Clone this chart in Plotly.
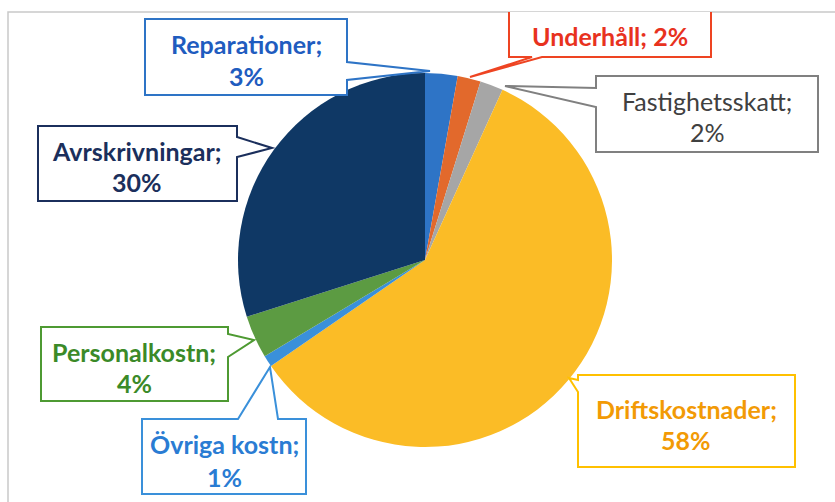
import plotly.graph_objects as go

W, H = 835, 502

categories = ["Reparationer", "Underhåll", "Fastighetsskatt", "Driftskostnader",
              "Övriga kostn", "Personalkostn", "Avrskrivningar"]
values = [2.8, 2.0, 2.0, 58.6, 1.0, 3.7, 29.9]
pct_labels = ["3%", "2%", "2%", "58%", "1%", "4%", "30%"]
slice_colors = ["#2E74C6", "#E2692C", "#A6A6A6", "#FBBC26", "#3A90DA", "#5C9B42", "#0F3865"]

text_colors = ["#1F5CBF", "#E8321E", "#404040", "#F29A05", "#2A7CD3", "#3B8A28", "#1B2F5C"]
border_colors = ["#2E74C6", "#EE4422", "#808080", "#FFC000", "#3A90DA", "#4E9A32", "#1B2F5C"]
bold = [True, True, False, True, True, True, True]


def px(x):
    return x / W


def py(y):
    return 1 - y / H


def path(points, close=True):
    s = "M " + " L ".join(f"{px(x):.5f},{py(y):.5f}" for x, y in points)
    return s + (" Z" if close else "")


fig = go.Figure()
cx, cy, r = 425, 260, 187
fig.add_trace(go.Pie(
    labels=categories, values=values, sort=False, direction="clockwise", rotation=0,
    marker=dict(colors=slice_colors, line=dict(width=0)),
    textinfo="none", hoverinfo="label+percent", showlegend=False,
    domain=dict(x=[px(cx - r), px(cx + r)], y=[py(cy + r), py(cy - r)]),
))

shapes = []
# chart frame
shapes.append(dict(type="path", path=path([(8, 502), (8, 12), (835, 12)], close=False),
                   xref="paper", yref="paper", line=dict(color="#C9C9C9", width=1.5)))

# callout outlines (box with pointer wedge)
callouts = {
    0: [(145, 19), (347, 19), (347, 62), (430, 71), (347, 80), (347, 95), (145, 95)],
    2: [(596, 76), (818, 76), (818, 152), (596, 152), (596, 107), (505, 86), (596, 88)],
    3: [(578, 375), (795, 375), (795, 467), (578, 467), (578, 392), (569, 378), (578, 380)],
    4: [(142, 419), (238, 419), (270, 367), (278, 419), (306, 419), (306, 494), (142, 494)],
    5: [(41, 327), (228, 327), (228, 334), (254, 340), (228, 357), (228, 401), (41, 401)],
    6: [(38, 126), (237, 126), (237, 137), (272, 148), (237, 157), (237, 201), (38, 201)],
}
for i, pts in callouts.items():
    shapes.append(dict(type="path", path=path(pts), xref="paper", yref="paper",
                       fillcolor="white", line=dict(color=border_colors[i], width=2)))
# Underhåll box is cut by the top of the frame
und = [(509, 12), (509, 57), (532, 57), (470, 77), (542, 57), (711, 57), (711, 12)]
shapes.append(dict(type="path", path=path(und, close=False), xref="paper", yref="paper",
                   fillcolor="white", line=dict(color=border_colors[1], width=2)))

# label text positions: (center x, line1 y, line2 y)
label_pos = {
    0: (246, 44, 76),
    2: (707, 101, 132),
    3: (686, 409, 440),
    4: (224, 444, 477),
    5: (134, 352, 383),
    6: (137, 151, 182),
}
annotations = []
for i, (x, y1, y2) in label_pos.items():
    for txt, yy in ((f"{categories[i]};", y1), (pct_labels[i], y2)):
        t = f"<b>{txt}</b>" if bold[i] else txt
        annotations.append(dict(x=px(x), y=py(yy), xref="paper", yref="paper",
                                text=t, showarrow=False, xanchor="center", yanchor="middle",
                                font=dict(family="Lato", size=25, color=text_colors[i])))
annotations.append(dict(x=px(610), y=py(36), xref="paper", yref="paper",
                        text=f"<b>{categories[1]}; {pct_labels[1]}</b>", showarrow=False,
                        xanchor="center", yanchor="middle",
                        font=dict(family="Lato", size=25, color=text_colors[1])))

fig.update_layout(
    width=W, height=H, margin=dict(l=0, r=0, t=0, b=0),
    paper_bgcolor="white", plot_bgcolor="white",
    shapes=shapes, annotations=annotations,
)

fig.write_html("out.html")
